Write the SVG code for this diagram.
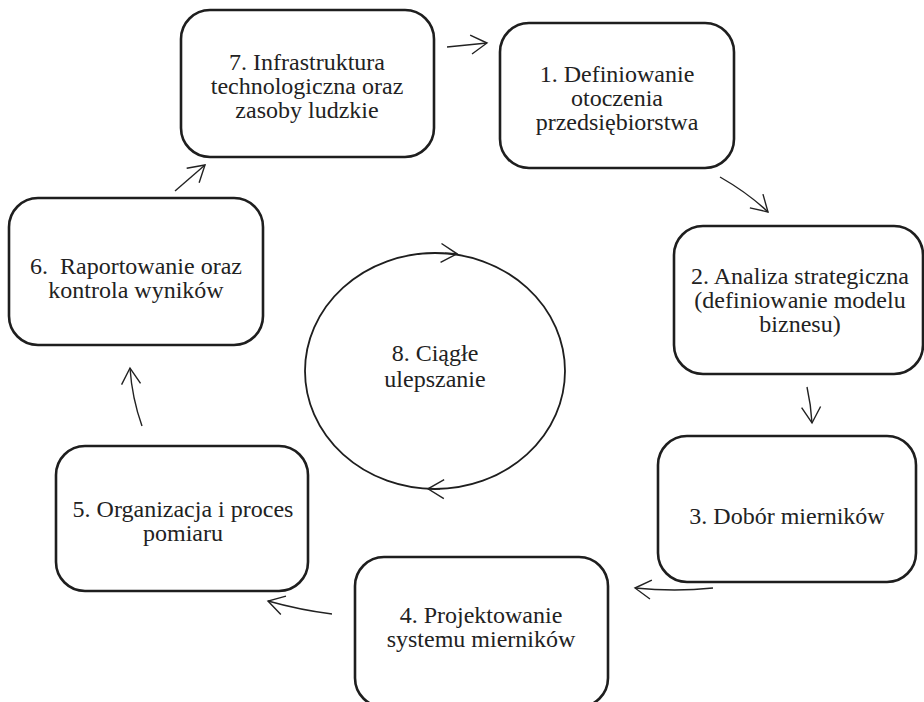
<svg xmlns="http://www.w3.org/2000/svg" width="924" height="702" viewBox="0 0 924 702">
  <defs>
    <marker id="head" markerUnits="userSpaceOnUse" markerWidth="40" markerHeight="40" refX="0" refY="0" viewBox="-20 -20 40 40" orient="auto" overflow="visible">
      <path d="M -16,-9.5 L 0,0 L -16,9.5" fill="none" stroke="#222" stroke-width="1.4"/>
    </marker>
  </defs>
  <style>
    .box { fill: #fff; stroke: #1e1e1e; stroke-width: 2.6; }
    .ring { fill: none; stroke: #1e1e1e; stroke-width: 1.8; }
    .lbl { font-family: 'Liberation Serif', 'DejaVu Serif', serif; font-size: 24px; fill: #222; text-anchor: middle; }
    .link { fill: none; stroke: #222; stroke-width: 1.4; marker-end: url(#head); }
  </style>
  <rect width="924" height="702" fill="#fff"/>

  <g id="node7">
    <rect class="box" x="181" y="10" width="253" height="147" rx="29"/>
    <text class="lbl" x="307" y="70">7. Infrastruktura</text>
    <text class="lbl" x="307" y="94">technologiczna oraz</text>
    <text class="lbl" x="307" y="118">zasoby ludzkie</text>
  </g>

  <g id="node1">
    <rect class="box" x="500" y="23" width="234" height="145" rx="29"/>
    <text class="lbl" x="617" y="82">1. Definiowanie</text>
    <text class="lbl" x="617" y="106">otoczenia</text>
    <text class="lbl" x="617" y="130">przedsiębiorstwa</text>
  </g>

  <g id="node2">
    <rect class="box" x="674" y="226" width="249" height="148" rx="29"/>
    <text class="lbl" x="800" y="284">2. Analiza strategiczna</text>
    <text class="lbl" x="800" y="308">(definiowanie modelu</text>
    <text class="lbl" x="800" y="332">biznesu)</text>
  </g>

  <g id="node3">
    <rect class="box" x="658" y="436" width="258" height="146" rx="29"/>
    <text class="lbl" x="787" y="524">3. Dobór mierników</text>
  </g>

  <g id="node4">
    <rect class="box" x="355" y="557" width="253" height="150" rx="29"/>
    <text class="lbl" x="481" y="623">4. Projektowanie</text>
    <text class="lbl" x="481" y="647">systemu mierników</text>
  </g>

  <g id="node5">
    <rect class="box" x="56" y="446" width="252" height="145" rx="29"/>
    <text class="lbl" x="183" y="517">5. Organizacja i proces</text>
    <text class="lbl" x="183" y="541">pomiaru</text>
  </g>

  <g id="node6">
    <rect class="box" x="9" y="198" width="254" height="147" rx="29"/>
    <text class="lbl" x="136" y="274" xml:space="preserve">6.  Raportowanie oraz</text>
    <text class="lbl" x="136" y="298">kontrola wyników</text>
  </g>

  <g id="node8">
    <ellipse class="ring" cx="435" cy="371" rx="130" ry="118"/>
    <text class="lbl" x="435" y="361">8. Ciągłe</text>
    <text class="lbl" x="435" y="387">ulepszanie</text>
  </g>

  <g id="connectors">
    <path class="link" d="M 447,47 L 487,43"/>
    <path class="link" d="M 720,177 Q 748,193 768,212"/>
    <path class="link" d="M 807,387 Q 811,405 812,423"/>
    <path class="link" d="M 713,588 Q 675,592 635,588"/>
    <path class="link" d="M 332,614 Q 300,610 268,601"/>
    <path class="link" d="M 142,426 Q 132,398 130,368"/>
    <path class="link" d="M 175,191 L 205,165"/>
    <!-- direction marks on the ring -->
    <path class="link" d="M 445,253.2 L 457,253.8"/>
    <path class="link" d="M 440,489 L 428,488.8"/>
  </g>
</svg>
